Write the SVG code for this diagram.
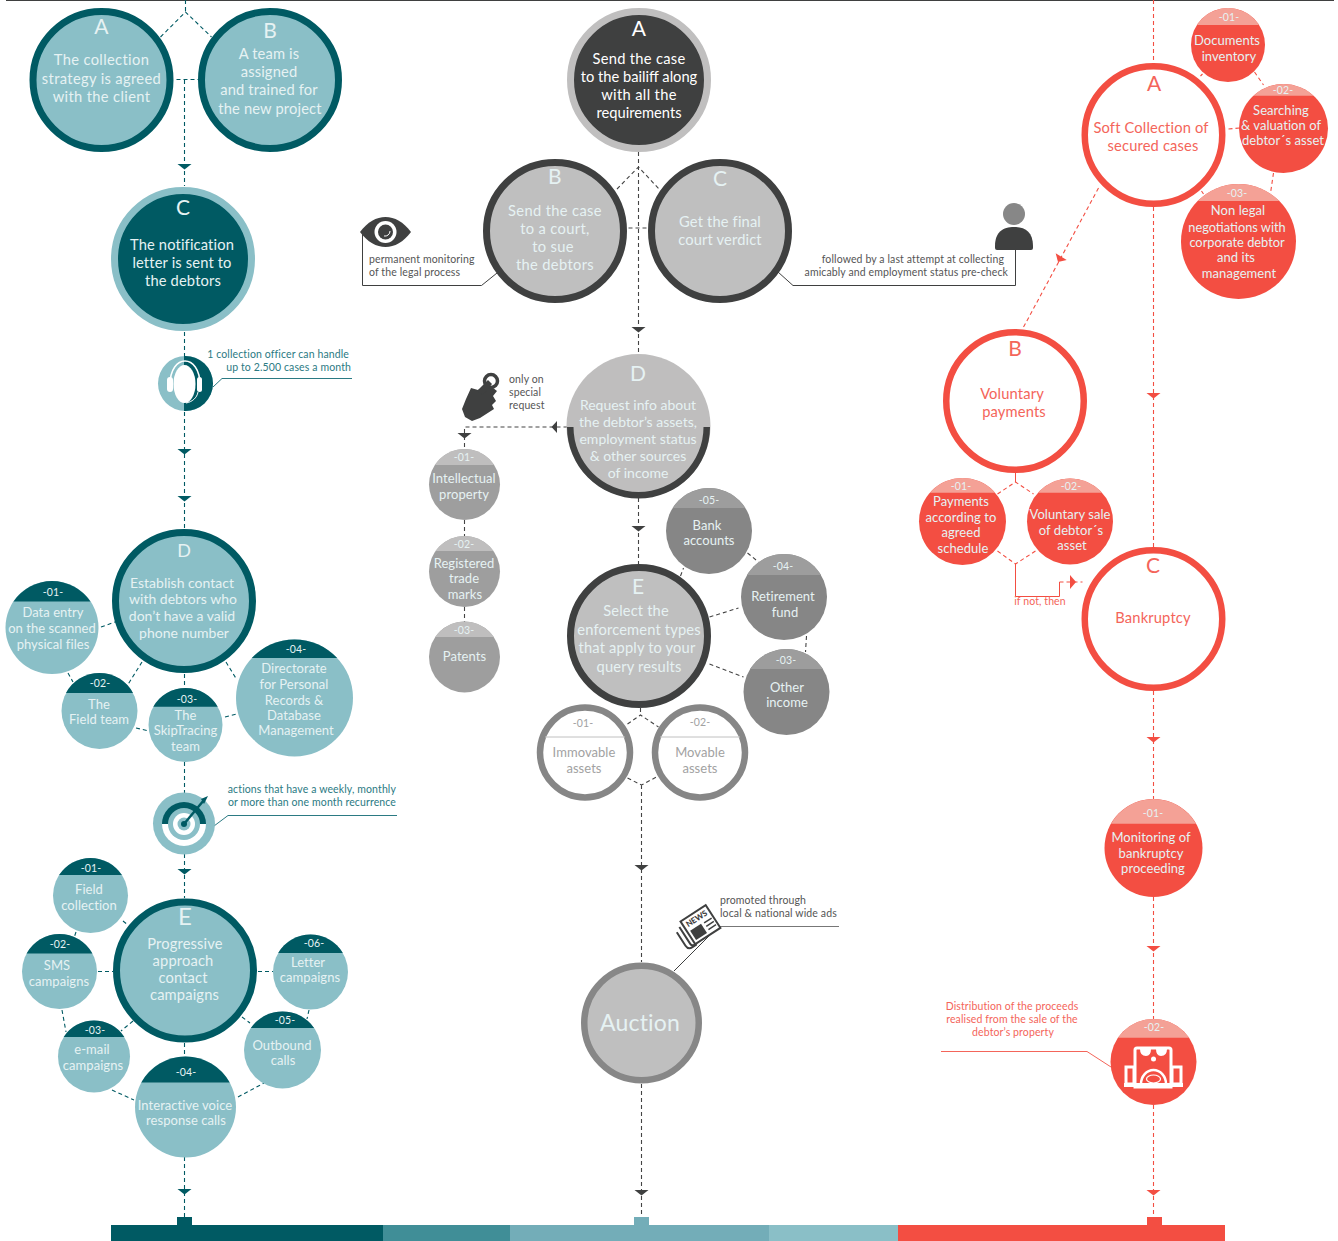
<svg xmlns="http://www.w3.org/2000/svg" width="1338" height="1241" viewBox="0 0 1338 1241">
<style>
text{font-family:"Lato","Noto Sans","Liberation Sans",sans-serif;text-anchor:middle;font-size:14.7px;fill:#e6f2f3;letter-spacing:.15px}
.s{font-size:13px;letter-spacing:.05px}
.c{font-size:10.5px;letter-spacing:.1px}
.big{font-size:21px;letter-spacing:0}
.note{font-size:10.5px;letter-spacing:.12px}
.nl{text-anchor:start}.nr{text-anchor:end}
#left-a text,#mid-a text,#mid-b text{letter-spacing:.35px}
#left-d text:not(.big),#mid-d text:not(.big){font-size:14px;letter-spacing:0}
.teal{fill:#2b7a83}.dk{fill:#555}.red{fill:#f4655a}
.rt{fill:#f4655a}
.ggr{fill:#a2a2a2}
.tn{fill:#8abfc7}.td{fill:#005a63}
.rn{fill:#f34e42}.rc{fill:#f4a196}
.g1{fill:#9e9e9e}.g1c{fill:#bfbebe}.g2{fill:#868686}.g2c{fill:#9d9d9d}
.rt-r{fill:#fff;stroke:#f34e42;stroke-width:6.5}
.dt{fill:none;stroke:#005a63;stroke-width:1.1;stroke-dasharray:4 3}
.dg{fill:none;stroke:#444;stroke-width:1.1;stroke-dasharray:4 3}
.dr{fill:none;stroke:#f34e42;stroke-width:1.1;stroke-dasharray:4 3}
.ln{fill:none;stroke-width:1}
</style>
<defs>
<polygon id="at" points="-7,-2 7,-2 0,3.5" fill="#005a63"/>
<polygon id="ag" points="-7,-2 7,-2 0,3.5" fill="#3f4040"/>
<polygon id="ar" points="-7,-2 7,-2 0,3.5" fill="#f34e42"/>
</defs>
<rect width="1338" height="1241" fill="#fff"/>
<rect x="6" y="0" width="1328" height="1" fill="#3f4040"/>

<g id="connectors">
<path class="dt" transform="translate(.5 0)" d="M185 0V12M160 37L185 12L211 37M176 79.500H198M184 80V186M184 332V356M184 412V530M184 674V688M184 762V793M184 854V898M184 1043V1057M184 1157V1217"/>
<path class="dt" d="M101 627L115 622M68 673L73 682M142 662L127 686M226 662L237 680M136 728L149 731M225 717L237 714"/>
<path class="dt" d="M123 921L128 925M76 932L74 938M98 971.500H113M258 971.500H273M309 1010L307 1019M242 1017L250 1023M133 1021L121 1031M62 1010L66 1032M112 1090L134 1100M238 1097L264 1083"/>
<use href="#at" x="184.500" y="166"/><use href="#at" x="184.500" y="451"/><use href="#at" x="184.500" y="498"/><use href="#at" x="184.500" y="871"/><use href="#at" x="184.500" y="1191"/>
<path class="dg" transform="translate(.5 0)" d="M638 152V354M616.500 189L638 167L658.500 189M628 228H650M638 498V564M567 427H464V449M680 576L683 568M747 553L758 562M709 617L738 608M806 636L805 652M709 664L743 677M640 708V715M627 724L640 715L658 727M627 778L641 785L656 777M641 785V962M641 1084V1217"/>
<use href="#ag" x="638.500" y="329"/><use href="#ag" x="638.500" y="528"/><use href="#ag" x="464.500" y="435"/><use href="#ag" x="641.500" y="867"/><use href="#ag" x="641.500" y="1192"/>
<polygon points="551.500,427 557,421 557,433" fill="#3f4040"/>
<path class="dg" transform="translate(.5 0)" d="M464 520V536M464 607V622"/>
<path class="dr" transform="translate(.5 0)" d="M1153 0V63M1153 207V547M1153 691V799M1153 897V1019M1153 1105V1217M1098 188L1022 329M1200 76L1202 74M1254 72L1263 85M1228 129L1239 128M1273 173L1270 193M1201 191L1203 194M997 494L1015 482L1033 494M997 551L1015 564L1035 551M1059 582H1082"/>
<path class="ln" stroke="#f34e42" d="M1015.500 473V482M1015.500 564V596.500H1059.500V582"/>
<use href="#ar" x="1153.500" y="395"/><use href="#ar" x="1153.500" y="739"/><use href="#ar" x="1153.500" y="948"/><use href="#ar" x="1153.500" y="1192"/>
<polygon points="1055.700,253.300 1066.700,260 1058,262" fill="#f34e42"/>
<polygon points="1070,575 1076,582 1070,589" fill="#f34e42"/>
<path class="ln" stroke="#2b7a83" d="M213 387L222 378.500H352M214 826L228 815.500H397"/>
<path class="ln" stroke="#3f4040" d="M362.500 232V285.500H481.500L497 273M1015.500 250V285.500H793L778 272M674 971L719 926"/>
<path class="ln" stroke="#777" d="M719 926.500H839"/>
<path class="ln" stroke="#f4655a" d="M941 1051.500H1087L1111 1067"/>
</g>

<g id="left-a"><circle cx="101.500" cy="80" r="68.500" fill="#8abfc7" stroke="#005a63" stroke-width="7"/><text class="big" x="101.500" y="34">A</text><text x="101.500" y="65">The collection</text><text x="101.500" y="84">strategy is agreed</text><text x="101.500" y="102">with the client</text></g>
<g id="left-b"><circle cx="270" cy="80" r="68.500" fill="#8abfc7" stroke="#005a63" stroke-width="7"/><text class="big" x="270" y="38">B</text><text x="269" y="59">A team is</text><text x="269" y="77">assigned</text><text x="269" y="95">and trained for</text><text x="270" y="114">the new project</text></g>
<g id="left-c"><circle cx="183" cy="259" r="68.500" fill="#005a63" stroke="#8abfc7" stroke-width="7"/><text class="big" x="183" y="215">C</text><text x="182" y="250">The notification</text><text x="182" y="268">letter is sent to</text><text x="183" y="286">the debtors</text></g>
<g id="left-headset"><circle class="tn" cx="185.500" cy="383.500" r="27.500"/><path d="M184 356.040A27.500 27.500 0 1 1 184 410.960Z" fill="#005a63"/><ellipse cx="184.500" cy="384" rx="11" ry="19" fill="#fff"/><path d="M170 385C170 353 200 353 200 385" fill="none" stroke="#fff" stroke-width="1.500"/><rect x="167" y="377" width="6" height="15" rx="3" fill="#fff"/><rect x="197" y="377" width="5" height="15" rx="2.500" fill="#fff"/><path d="M198 392C197 398 192 402 186 403" fill="none" stroke="#fff" stroke-width="1"/><text class="note nr teal" x="349" y="358">1 collection officer can handle</text><text class="note nr teal" x="351" y="371">up to 2.500 cases a month</text></g>
<g id="left-d"><circle cx="184" cy="601" r="68.500" fill="#8abfc7" stroke="#005a63" stroke-width="7"/><text class="big" x="184" y="557" style="font-size:18px">D</text><text x="182" y="588">Establish contact</text><text x="183" y="604">with debtors who</text><text x="182" y="621">don’t have a valid</text><text x="184" y="638">phone number</text></g>
<g id="left-d1"><circle class="tn" cx="52" cy="627.500" r="46.500"/><path class="td" d="M13.500 601.500A46.500 46.500 0 0 1 90.500 601.500Z"/><text class="c" x="53" y="596">-01-</text><text class="s" x="53" y="617">Data entry</text><text class="s" x="52" y="633">on the scanned</text><text class="s" x="53" y="649">physical files</text></g>
<g id="left-d2"><circle class="tn" cx="99.500" cy="711" r="38"/><path class="td" d="M66 693A38 38 0 0 1 133 693Z"/><text class="c" x="100" y="687">-02-</text><text class="s" x="99" y="709">The</text><text class="s" x="99" y="724">Field team</text></g>
<g id="left-d3"><circle class="tn" cx="185.500" cy="725" r="37"/><path class="td" d="M153.300 706.700A37 37 0 0 1 217.700 706.700Z"/><text class="c" x="187" y="703">-03-</text><text class="s" x="185.500" y="720">The</text><text class="s" x="185.500" y="735">SkipTracing</text><text class="s" x="185.500" y="751">team</text></g>
<g id="left-d4"><circle class="tn" cx="294.500" cy="698" r="58.500"/><path class="td" d="M251.800 658A58.500 58.500 0 0 1 337.200 658Z"/><text class="c" x="296" y="653">-04-</text><text class="s" x="294" y="673">Directorate</text><text class="s" x="294" y="689">for Personal</text><text class="s" x="294" y="705">Records &amp;</text><text class="s" x="294" y="720">Database</text><text class="s" x="296" y="735">Management</text></g>
<g id="left-target"><circle class="tn" cx="184" cy="823.500" r="31"/><path class="td" d="M162 824A22 22 0 0 1 206 824Z"/><path d="M162 824A22 22 0 0 0 206 824Z" fill="#fff"/><circle class="tn" cx="184" cy="824" r="16"/><circle cx="184" cy="824" r="11" fill="#fff"/><circle class="tn" cx="184" cy="824" r="6.500"/><circle class="td" cx="184" cy="824" r="3"/><path d="M184 824L204 800" stroke="#005a63" stroke-width="2.500"/><path d="M201 799L208 796L204 804Z" fill="#005a63"/><text class="note nr teal" x="396" y="793">actions that have a weekly, monthly</text><text class="note nr teal" x="396" y="806">or more than one month recurrence</text></g>
<g id="left-e"><circle cx="185" cy="970.500" r="68.500" fill="#8abfc7" stroke="#005a63" stroke-width="7"/><text class="big" x="185" y="925" style="font-size:24px">E</text><text x="185" y="949">Progressive</text><text x="183" y="966">approach</text><text x="183" y="983">contact</text><text x="184.500" y="1000">campaigns</text></g>
<g id="left-e1"><circle class="tn" cx="90.500" cy="895.500" r="37.500"/><path class="td" d="M59.100 875A37.500 37.500 0 0 1 121.900 875Z"/><text class="c" x="91" y="872">-01-</text><text class="s" x="89" y="894">Field</text><text class="s" x="89" y="910">collection</text></g>
<g id="left-e2"><circle class="tn" cx="59.500" cy="971.500" r="37.500"/><path class="td" d="M26.600 953.500A37.500 37.500 0 0 1 92.400 953.500Z"/><text class="c" x="60" y="948">-02-</text><text class="s" x="57" y="970">SMS</text><text class="s" x="59" y="986">campaigns</text></g>
<g id="left-e3"><circle class="tn" cx="94" cy="1056.500" r="36"/><path class="td" d="M63.700 1037A36 36 0 0 1 124.300 1037Z"/><text class="c" x="95" y="1034">-03-</text><text class="s" x="92" y="1054">e-mail</text><text class="s" x="93" y="1070">campaigns</text></g>
<g id="left-e4"><circle class="tn" cx="185.500" cy="1107" r="50.500"/><path class="td" d="M141.300 1082.500A50.500 50.500 0 0 1 229.700 1082.500Z"/><text class="c" x="186" y="1076">-04-</text><text class="s" x="185" y="1110">Interactive voice</text><text class="s" x="186" y="1125">response calls</text></g>
<g id="left-e5"><circle class="tn" cx="282.500" cy="1050" r="38.500"/><path class="td" d="M250.900 1028A38.500 38.500 0 0 1 314.100 1028Z"/><text class="c" x="285" y="1024">-05-</text><text class="s" x="282" y="1050">Outbound</text><text class="s" x="283" y="1065">calls</text></g>
<g id="left-e6"><circle class="tn" cx="310.500" cy="972" r="37.500"/><path class="td" d="M278.200 953A37.500 37.500 0 0 1 342.800 953Z"/><text class="c" x="314" y="947">-06-</text><text class="s" x="308" y="967">Letter</text><text class="s" x="310" y="982">campaigns</text></g>

<g id="mid-a"><circle cx="639" cy="80" r="68.500" fill="#3f4040" stroke="#c0bfbf" stroke-width="7"/><text class="big" x="639" y="36" style="fill:#fff">A</text><text x="639" y="64" style="fill:#fff;letter-spacing:.3px">Send the case</text><text x="639" y="82" style="fill:#fff;letter-spacing:0">to the bailiff along</text><text x="639" y="100" style="fill:#fff">with all the</text><text x="639" y="118" style="fill:#fff;letter-spacing:0">requirements</text></g>
<g id="mid-b"><circle cx="555" cy="231" r="68.500" fill="#bfbfbf" stroke="#3f4040" stroke-width="7"/><text class="big" x="555" y="184">B</text><text x="555" y="216">Send the case</text><text x="555" y="234">to a court,</text><text x="553" y="252">to sue</text><text x="555" y="270">the debtors</text></g>
<g id="mid-c"><circle cx="720" cy="231" r="68.500" fill="#bfbfbf" stroke="#3f4040" stroke-width="7"/><text class="big" x="720" y="186">C</text><text x="720" y="227">Get the final</text><text x="720" y="245">court verdict</text></g>
<g id="mid-eye"><path d="M360 232C375 212 396 212 411 232C396 252 375 252 360 232Z" fill="#3f4040"/><circle cx="385.500" cy="232" r="11" fill="#fff"/><circle cx="385.500" cy="232" r="7.500" fill="#3f4040"/><path d="M384 236A5 5 0 0 0 390 231" fill="none" stroke="#fff" stroke-width="1"/><text class="note nl dk" x="369" y="263">permanent monitoring</text><text class="note nl dk" x="369" y="276">of the legal process</text></g>
<g id="mid-person"><circle cx="1014" cy="214" r="11" fill="#878787"/><path d="M995 248V246C995 232 1003 227 1014 227C1025 227 1033 232 1033 246V248Q1033 250 1031 250H997Q995 250 995 248Z" fill="#3f4040"/><text class="note nr dk" x="1004" y="263">followed by a last attempt at collecting</text><text class="note nr dk" x="1008" y="276">amicably and employment status pre-check</text></g>
<g id="mid-d"><circle cx="638.500" cy="426" r="72" fill="#bfbebe"/><path d="M567 427A71.500 71.500 0 0 0 710 427H703.500A65 65 0 0 1 573.500 427Z" fill="#3f4040"/><text class="big" x="638" y="381">D</text><text x="638" y="410">Request info about</text><text x="638" y="427">the debtor’s assets,</text><text x="638" y="444">employment status</text><text x="638" y="461">&amp; other sources</text><text x="638" y="478">of income</text></g>
<g id="mid-hand"><path d="M471 388L478 390L488 384L497 391L493 396L496 401L492 405L494 409L480 418L472 421L465 417L462 409L466 399Z" fill="#3f4040"/><circle cx="491" cy="381" r="6.500" fill="none" stroke="#3f4040" stroke-width="3.500"/><path d="M477 391L488 380L492 384L483 395Z" fill="#3f4040"/><text class="note nl dk" x="509" y="383">only on</text><text class="note nl dk" x="509" y="396">special</text><text class="note nl dk" x="509" y="409">request</text></g>
<g id="mid-d1"><circle class="g1" cx="464.500" cy="484.500" r="35.500"/><path class="g1c" d="M434.800 465A35.500 35.500 0 0 1 494.200 465Z"/><text class="c" x="464" y="461">-01-</text><text class="s" x="464" y="483">Intellectual</text><text class="s" x="464" y="499">property</text></g>
<g id="mid-d2"><circle class="g1" cx="464.500" cy="571.500" r="35.500"/><path class="g1c" d="M435.500 551A35.500 35.500 0 0 1 493.500 551Z"/><text class="c" x="464" y="548">-02-</text><text class="s" x="464" y="568">Registered</text><text class="s" x="464" y="583">trade</text><text class="s" x="465" y="599">marks</text></g>
<g id="mid-d3"><circle class="g1" cx="464.500" cy="657" r="35.500"/><path class="g1c" d="M435.200 637A35.500 35.500 0 0 1 493.800 637Z"/><text class="c" x="464" y="634">-03-</text><text class="s" x="464.500" y="661">Patents</text></g>
<g id="mid-e"><circle cx="639" cy="636" r="68.500" fill="#bfbfbf" stroke="#3f4040" stroke-width="7"/><text class="big" x="638" y="594">E</text><text x="636" y="616">Select the</text><text x="639" y="635">enforcement types</text><text x="637" y="653">that apply to your</text><text x="639" y="672">query results</text></g>
<g id="mid-e5"><circle class="g2" cx="709" cy="531" r="43"/><path class="g2c" d="M672.700 508A43 43 0 0 1 745.300 508Z"/><text class="c" x="709" y="504">-05-</text><text class="s" x="707" y="530">Bank</text><text class="s" x="709" y="545">accounts</text></g>
<g id="mid-e4"><circle class="g2" cx="784" cy="597" r="43"/><path class="g2c" d="M747 575A43 43 0 0 1 821 575Z"/><text class="c" x="783" y="570">-04-</text><text class="s" x="783" y="601">Retirement</text><text class="s" x="785" y="617">fund</text></g>
<g id="mid-e3"><circle class="g2" cx="786.500" cy="692" r="43"/><path class="g2c" d="M750.200 669A43 43 0 0 1 822.800 669Z"/><text class="c" x="786" y="664">-03-</text><text class="s" x="787" y="692">Other</text><text class="s" x="787" y="707">income</text></g>
<g id="mid-e1"><circle cx="585" cy="752.500" r="45" fill="#fff" stroke="#868686" stroke-width="6.500"/><path d="M545 737H625" stroke="#c0c0c0"/><text class="c ggr" x="583" y="727">-01-</text><text class="s ggr" x="584" y="757">Immovable</text><text class="s ggr" x="584" y="773">assets</text></g>
<g id="mid-e2"><circle cx="700" cy="752.500" r="45" fill="#fff" stroke="#868686" stroke-width="6.500"/><path d="M660 737H740" stroke="#c0c0c0"/><text class="c ggr" x="700" y="726">-02-</text><text class="s ggr" x="700" y="757">Movable</text><text class="s ggr" x="700" y="773">assets</text></g>
<g id="mid-news" transform="translate(696 927) rotate(-33)"><path d="M-14 -9V11Q-14 14 -11 14H-8" fill="none" stroke="#3f4040" stroke-width="2"/><path d="M-19 -6V10Q-19 15 -14 15H-9" fill="none" stroke="#3f4040" stroke-width="2"/><rect x="-10" y="-13" width="30" height="27" fill="#fff" stroke="#3f4040" stroke-width="2"/><text x="5" y="-4" style="font-size:8px;font-weight:900;fill:#3f4040;letter-spacing:0">NEWS</text><rect x="-7" y="0" width="13" height="11" fill="#3f4040"/><path d="M9 1H18M9 5H18M9 9H18" stroke="#3f4040" stroke-width="1.500"/></g>
<g id="mid-promo"><text class="note nl dk" x="720" y="904">promoted through</text><text class="note nl dk" x="720" y="917">local &amp; national wide ads</text></g>
<g id="mid-auction"><circle cx="641.500" cy="1023" r="57.250" fill="#bfbfbf" stroke="#878787" stroke-width="6.500"/><text x="640" y="1031" style="font-size:23px">Auction</text></g>

<g id="right-a"><circle class="rt-r" cx="1153.500" cy="135" r="68.750"/><text class="big rt" x="1154" y="91">A</text><text class="rt" x="1151" y="133">Soft Collection of</text><text class="rt" x="1153" y="151">secured cases</text></g>
<g id="right-a1"><circle class="rn" cx="1228" cy="45" r="37"/><path class="rc" d="M1196.900 25A37 37 0 0 1 1259.100 25Z"/><text class="c" x="1229" y="21">-01-</text><text class="s" x="1227" y="45">Documents</text><text class="s" x="1229" y="61">inventory</text></g>
<g id="right-a2"><circle class="rn" cx="1283.500" cy="128.500" r="44.500"/><path class="rc" d="M1253.500 95.700A44.500 44.500 0 0 1 1313.500 95.700Z"/><text class="c" x="1283" y="94">-02-</text><text class="s" x="1281" y="115">Searching</text><text class="s" x="1281" y="130">&amp; valuation of</text><text class="s" x="1283" y="145">debtor´s asset</text></g>
<g id="right-a3"><circle class="rn" cx="1238.500" cy="241.500" r="57.500"/><path class="rc" d="M1197.700 201A57.500 57.500 0 0 1 1279.300 201Z"/><text class="c" x="1237" y="197">-03-</text><text class="s" x="1238" y="215">Non legal</text><text class="s" x="1237" y="232" style="font-size:12.8px;letter-spacing:0">negotiations with</text><text class="s" x="1237" y="247" style="font-size:12.8px;letter-spacing:0">corporate debtor</text><text class="s" x="1236" y="262">and its</text><text class="s" x="1239" y="278">management</text></g>
<g id="right-b"><circle class="rt-r" cx="1015" cy="401" r="68.750"/><text class="big rt" x="1015" y="356">B</text><text class="rt" x="1012" y="399">Voluntary</text><text class="rt" x="1014" y="417">payments</text></g>
<g id="right-b1"><circle class="rn" cx="962.500" cy="521.500" r="43.500"/><path class="rc" d="M929.900 492.700A43.500 43.500 0 0 1 995.100 492.700Z"/><text class="c" x="961" y="490">-01-</text><text class="s" x="961" y="506">Payments</text><text class="s" x="961" y="522">according to</text><text class="s" x="961" y="537">agreed</text><text class="s" x="963" y="553">schedule</text></g>
<g id="right-b2"><circle class="rn" cx="1070" cy="521.500" r="43"/><path class="rc" d="M1038 492.700A43 43 0 0 1 1102 492.700Z"/><text class="c" x="1071" y="490">-02-</text><text class="s" x="1070" y="519">Voluntary sale</text><text class="s" x="1071" y="535">of debtor´s</text><text class="s" x="1072" y="550">asset</text></g>
<text class="c rt" x="1040" y="605">if not, then</text>
<g id="right-c"><circle class="rt-r" cx="1153.500" cy="619" r="68.750"/><text class="big rt" x="1153" y="573">C</text><text class="rt" x="1153" y="623">Bankruptcy</text></g>
<g id="right-m"><circle class="rn" cx="1153.500" cy="848" r="49"/><path class="rc" d="M1111 823.700A49 49 0 0 1 1196 823.700Z"/><text class="c" x="1153" y="817">-01-</text><text class="s" x="1151" y="842">Monitoring of</text><text class="s" x="1151" y="858">bankruptcy</text><text class="s" x="1153" y="873">proceeding</text></g>
<g id="right-d"><circle class="rn" cx="1153.500" cy="1062" r="43"/><path class="rc" d="M1118 1037.700A43 43 0 0 1 1189 1037.700Z"/><text class="c" x="1154" y="1031">-02-</text><path d="M1135 1050Q1135 1048 1137 1048H1169Q1171 1048 1171 1050V1087H1135Z" fill="none" stroke="#fff" stroke-width="3"/><path d="M1126 1067H1134V1084H1126ZM1172 1067H1181V1084H1172Z" fill="none" stroke="#fff" stroke-width="3"/><path d="M1124 1085H1183" stroke="#fff" stroke-width="4"/><path d="M1140 1049Q1140 1056 1146 1056Q1151 1056 1151 1049M1156 1049Q1156 1056 1161 1056Q1167 1056 1167 1049" fill="#fff"/><circle cx="1153.500" cy="1059" r="2.500" fill="#fff"/><path d="M1141 1084A12.500 14 0 0 1 1166 1084" fill="none" stroke="#fff" stroke-width="2.500"/><ellipse cx="1153.500" cy="1079" rx="7" ry="4" fill="none" stroke="#fff" stroke-width="1.200"/><text class="note red" x="1012" y="1010">Distribution of the proceeds</text><text class="note red" x="1012" y="1023">realised from the sale of the</text><text class="note red" x="1013" y="1036">debtor’s property</text></g>

<g id="bar">
<rect x="111" y="1225" width="272" height="16" fill="#005a63"/><rect x="383" y="1225" width="127" height="16" fill="#408e97"/><rect x="510" y="1225" width="259" height="16" fill="#73adb8"/><rect x="769" y="1225" width="129" height="16" fill="#8abfc7"/><rect x="898" y="1225" width="327" height="16" fill="#f34e42"/>
<rect x="177" y="1217" width="15" height="8" fill="#005a63"/><rect x="634" y="1217" width="15" height="8" fill="#73adb8"/><rect x="1147" y="1217" width="15" height="8" fill="#f34e42"/>
</g>
</svg>
